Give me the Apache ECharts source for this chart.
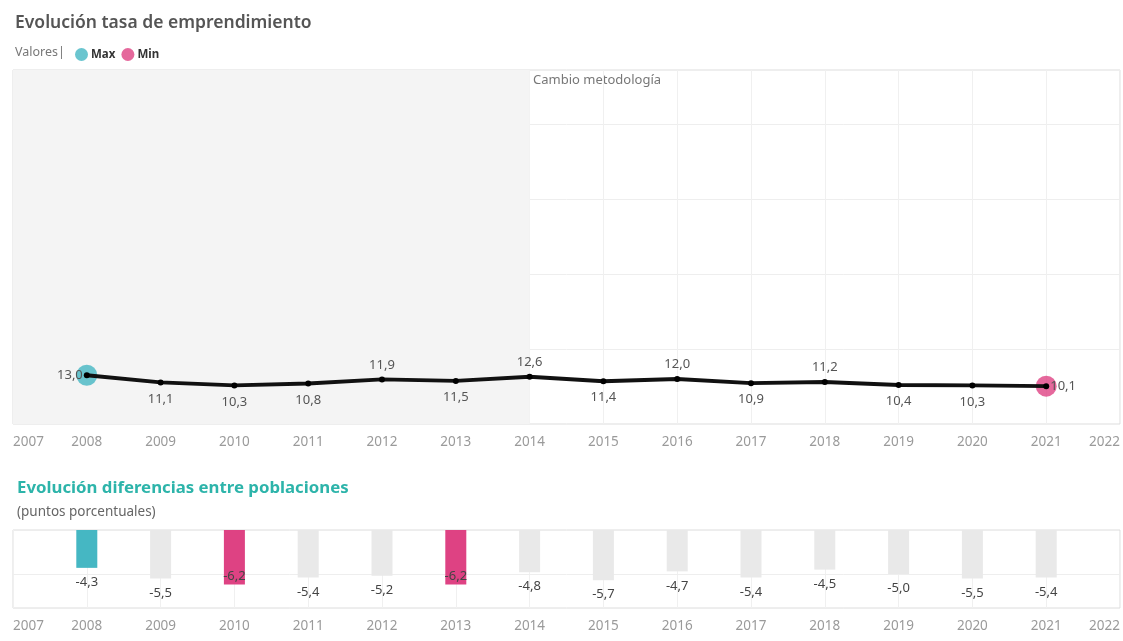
<!DOCTYPE html>
<html>
<head>
<meta charset="utf-8">
<script src="https://cdn.jsdelivr.net/npm/echarts@6/dist/echarts.min.js"></script>
<style>
html,body{margin:0;padding:0;background:#fff;}
#c{width:1123px;height:641px;}
</style>
</head>
<body>
<div id="c"></div>
<script>
var years = [2008,2009,2010,2011,2012,2013,2014,2015,2016,2017,2018,2019,2020,2021];
var tasa = [13.0,11.1,10.3,10.8,11.9,11.5,12.6,11.4,12.0,10.9,11.2,10.4,10.3,10.1];
var tasaLabelPos = ['left','bottom','bottom','bottom','top','bottom','top','bottom','top','bottom','top','bottom','bottom','right'];
var diferencias = [-4.3,-5.5,-6.2,-5.4,-5.2,-6.2,-4.8,-5.7,-4.7,-5.4,-4.5,-5.0,-5.5,-5.4];
var maxPoint = [2008, 13.0];
var minPoint = [2021, 10.1];
var cambioYear = 2014;
var axisMinYear = 2007, axisMaxYear = 2022;

var TEAL = '#45b7c3', PINK = '#de4283', FONT = 'Noto Sans';
function fmt(v){ return v.toFixed(1).replace('.', ','); }

var maxDif = Math.max.apply(null, diferencias);
var minDif = Math.min.apply(null, diferencias);

var lineData = years.map(function(y,i){
  return {
    value:[y,tasa[i]],
    label:{show:true, position:tasaLabelPos[i], distance: tasaLabelPos[i]==='bottom'?7:(tasaLabelPos[i]==='left'||tasaLabelPos[i]==='right'?1:5)}
  };
});
var barData = years.map(function(y,i){
  var v = diferencias[i];
  var color = v===maxDif ? TEAL : (v===minDif ? PINK : '#e9e9e9');
  return {
    value:[y,v],
    itemStyle:{color:color},
    label:{show:true, position: v===minDif ? 'insideBottom' : 'bottom', distance: v===minDif ? 2 : 8}
  };
});

function xAxisCfg(gi){
  return {
    type:'value', gridIndex:gi, min:axisMinYear, max:axisMaxYear, interval:1,
    axisLine:{show:false}, axisTick:{show:false},
    axisLabel:{color:'#9a9a9a', fontFamily:FONT, fontSize:13.5, margin:11,
      alignMinLabel:'left', alignMaxLabel:'right', formatter:function(v){return String(v);}},
    splitLine:{show:true, lineStyle:{color:'#f0f0f0', width:1}}
  };
}

var chart = echarts.init(document.getElementById('c'));
chart.setOption({
  animation:false,
  textStyle:{fontFamily:FONT},
  legend:{
    data:['Max','Min'], left:70, top:43, icon:'circle', itemWidth:13, itemHeight:13, itemGap:6,
    textStyle:{color:'#333', fontSize:11.5, fontWeight:'bold', fontFamily:FONT, padding:[0,0,0,-2]},
    selectedMode:false
  },
  graphic:[
    {type:'text', left:15, top:14, style:{text:'Evolución tasa de emprendimiento', fill:'#555', font:'600 17.5px "Noto Sans"'}},
    {type:'text', left:15, top:46, style:{text:'Valores|', fill:'#777', font:'12.5px "Noto Sans"'}},
    {type:'text', left:533, top:74, style:{text:'Cambio metodología', fill:'#777', font:'13px "Noto Sans"'}},
    {type:'text', left:17, top:480, style:{text:'Evolución diferencias entre poblaciones', fill:'#2db4aa', font:'bold 16.8px "Noto Sans"'}},
    {type:'text', left:17, top:505, style:{text:'(puntos porcentuales)', fill:'#666', font:'13.5px "Noto Sans"'}}
  ],
  grid:[
    {left:13, width:1108, top:70, height:354, show:true, borderColor:'#dcdcdc', borderWidth:1, backgroundColor:'#fff'},
    {left:13, width:1108, top:530, height:78, show:true, borderColor:'#dcdcdc', borderWidth:1, backgroundColor:'#fff'}
  ],
  xAxis:[xAxisCfg(0), xAxisCfg(1)],
  yAxis:[
    {type:'value', gridIndex:0, min:0, max:94.4, interval:20, axisLabel:{show:false}, axisLine:{show:false}, axisTick:{show:false},
      splitLine:{show:true, lineStyle:{color:'#eeeeee'}}},
    {type:'value', gridIndex:1, min:-8.86, max:0, axisLabel:{show:false}, axisLine:{show:false}, axisTick:{show:false},
      splitLine:{show:false}}
  ],
  series:[
    {name:'Max', type:'scatter', xAxisIndex:0, yAxisIndex:0, data:[maxPoint], symbolSize:21, itemStyle:{color:TEAL}, z:2, silent:true},
    {name:'Min', type:'scatter', xAxisIndex:0, yAxisIndex:0, data:[minPoint], symbolSize:21, itemStyle:{color:PINK}, z:2, silent:true},
    {name:'Tasa', type:'line', xAxisIndex:0, yAxisIndex:0, data:lineData, z:3,
      symbol:'circle', symbolSize:6, showAllSymbol:true,
      lineStyle:{color:'#111', width:4}, itemStyle:{color:'#000'},
      label:{color:'#555', fontSize:13, fontFamily:FONT, formatter:function(p){return fmt(p.value[1]);}},
      markArea:{silent:true, itemStyle:{color:'#f4f4f4'}, data:[[{xAxis:axisMinYear},{xAxis:cambioYear}]]}
    },
    {name:'Diferencias', type:'bar', xAxisIndex:1, yAxisIndex:1, data:barData, barWidth:21, z:3,
      label:{color:'#444', fontSize:13, fontFamily:FONT, formatter:function(p){return fmt(p.value[1]);}},
      markLine:{silent:true, symbol:'none', label:{show:false}, lineStyle:{color:'#eeeeee', type:'solid', width:1}, data:[{yAxis:-5}], z:1}
    }
  ]
});
</script>
</body>
</html>
